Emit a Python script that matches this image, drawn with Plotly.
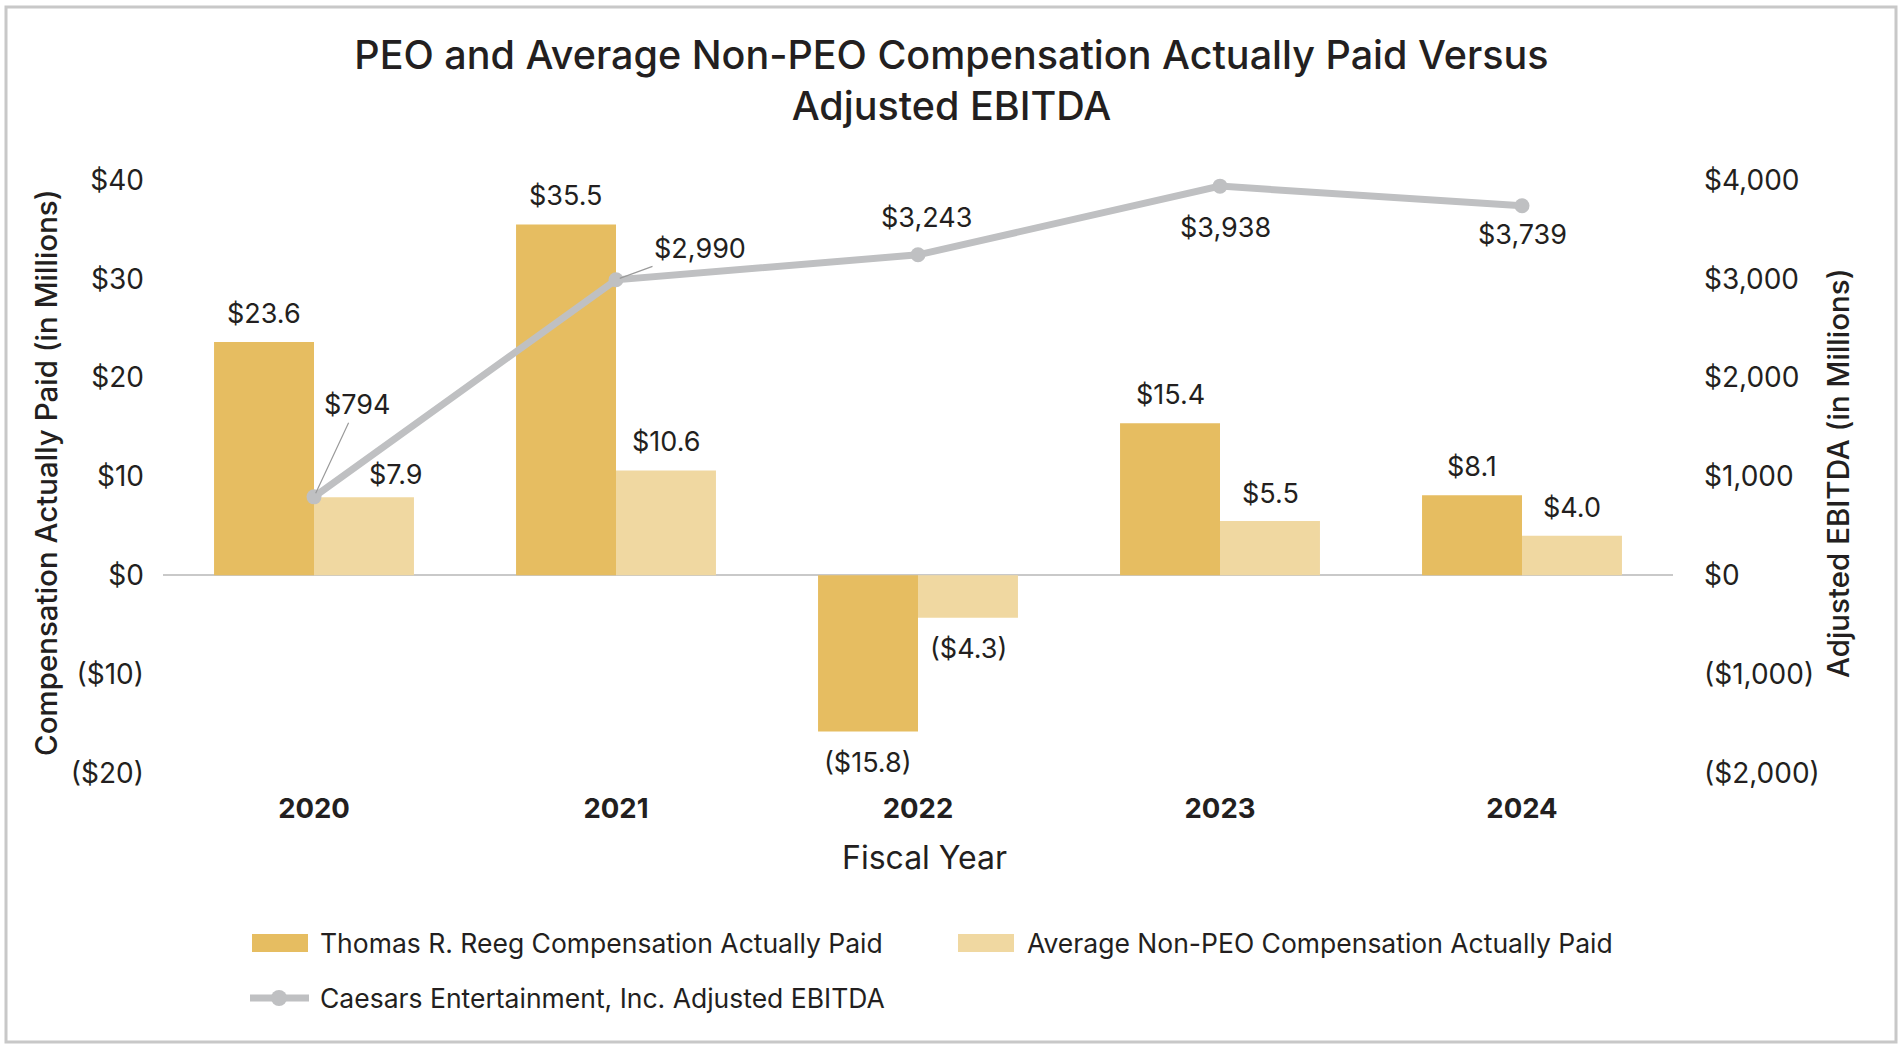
import plotly.graph_objects as go

# ---------------- data ----------------
years = ["2020", "2021", "2022", "2023", "2024"]
peo_cap = [23.6, 35.5, -15.8, 15.4, 8.1]          # Thomas R. Reeg CAP ($M)
neo_cap = [7.9, 10.6, -4.3, 5.5, 4.0]             # Average Non-PEO CAP ($M)
adj_ebitda = [794, 2990, 3243, 3938, 3739]        # Adjusted EBITDA ($M)

left_tickvals = [40, 30, 20, 10, 0, -10, -20]
left_ticktext = ["$40", "$30", "$20", "$10", "$0", "($10)", "($20)"]
right_tickvals = [4000, 3000, 2000, 1000, 0, -1000, -2000]
right_ticktext = ["$4,000", "$3,000", "$2,000", "$1,000", "$0", "($1,000)", "($2,000)"]

series_names = ["Thomas R. Reeg Compensation Actually Paid",
                "Average Non-PEO Compensation Actually Paid",
                "Caesars Entertainment, Inc. Adjusted EBITDA"]

# ---------------- style ----------------
W, H = 1903, 1049
ML, MR, MT, MB = 163, 230, 180, 276
PW, PH = W - ML - MR, H - MT - MB
FONT = "Inter"
TXT = "#231F20"
C_PEO = "#E6BD61"
C_NEO = "#F0D8A1"
C_LINE = "#BFC0C2"
C_ZERO = "#C9C9C9"
C_BORDER = "#C8C8C8"
BAR_HALF = 50  # px offset of each bar center from the group center

def px_x(p):
    return (p - ML) / PW

def px_y(p):
    return (H - MB - p) / PH

def money(v, dec=1):
    s = f"{abs(v):,.{dec}f}"
    return f"(${s})" if v < 0 else f"${s}"

fig = go.Figure()
fig.add_trace(go.Bar(x=years, y=peo_cap, name=series_names[0],
                     marker=dict(color=C_PEO, line=dict(width=0)), showlegend=False))
fig.add_trace(go.Bar(x=years, y=neo_cap, name=series_names[1],
                     marker=dict(color=C_NEO, line=dict(width=0)), showlegend=False))
fig.add_trace(go.Scatter(x=years, y=adj_ebitda, name=series_names[2], yaxis="y2",
                         mode="lines+markers", cliponaxis=False,
                         line=dict(color=C_LINE, width=7),
                         marker=dict(color=C_LINE, size=15), showlegend=False))

ann = []
LBL = dict(family=FONT, size=27, color=TXT)
# bar labels (x given as category index on the category axis)
neo_dx = [32, 0, 0, 0, 0]
neo_dy = [23, 29, -31, 27, 28]
peo_dy = [29, 29, -31, 29, 29]
for i, yr in enumerate(years):
    for vals, dx0, extra, dy in ((peo_cap, -BAR_HALF, 0, peo_dy[i]),
                                 (neo_cap, BAR_HALF, neo_dx[i], neo_dy[i])):
        v = vals[i]
        ann.append(dict(x=i, y=v, xref="x", yref="y", text=money(v), showarrow=False,
                        xshift=dx0 + extra, yshift=dy,
                        xanchor="center", yanchor="middle", font=LBL))
# EBITDA labels
e_dx = [43, 84, 8, 5, 0]
e_dy = [-92, -31, -37, 41, 29]   # px, positive = downward
e_arrow = [True, True, False, False, False]
for i, yr in enumerate(years):
    txt = money(adj_ebitda[i], 0)
    if e_arrow[i]:
        ann.append(dict(x=i, y=adj_ebitda[i], xref="x", yref="y2", text=txt,
                        showarrow=True, arrowhead=0, arrowwidth=1.2, arrowcolor="#9A9A9A",
                        ax=e_dx[i], ay=e_dy[i], standoff=4, font=LBL))
    else:
        ann.append(dict(x=i, y=adj_ebitda[i], xref="x", yref="y2", text=txt,
                        showarrow=False, xshift=e_dx[i], yshift=-e_dy[i],
                        xanchor="center", yanchor="middle", font=LBL))

# axis titles
ann.append(dict(x=px_x(46), y=px_y(473), xref="paper", yref="paper",
                text="Compensation Actually Paid (in Millions)", textangle=-90,
                showarrow=False, xanchor="center", yanchor="middle",
                font=dict(family=FONT, size=29.5, color=TXT, weight=500)))
ann.append(dict(x=px_x(1838), y=px_y(473), xref="paper", yref="paper",
                text="Adjusted EBITDA (in Millions)", textangle=-90,
                showarrow=False, xanchor="center", yanchor="middle",
                font=dict(family=FONT, size=29.5, color=TXT, weight=500)))
ann.append(dict(x=px_x(925), y=px_y(857), xref="paper", yref="paper",
                text="Fiscal Year", showarrow=False, xanchor="center", yanchor="middle",
                font=dict(family=FONT, size=32, color=TXT)))

# custom legend
LEG = dict(family=FONT, size=26.5, color=TXT)
shapes = []
leg_items = [(252, 308, 943, C_PEO, 318, series_names[0]),
             (958, 1014, 943, C_NEO, 1025, series_names[1])]
for x0, x1, yc, col, tx, name in leg_items:
    shapes.append(dict(type="rect", xref="paper", yref="paper",
                       x0=px_x(x0), x1=px_x(x1), y0=px_y(yc + 9), y1=px_y(yc - 9),
                       fillcolor=col, line=dict(width=0)))
    ann.append(dict(x=px_x(tx), y=px_y(yc), xref="paper", yref="paper", text=name,
                    showarrow=False, xanchor="left", yanchor="middle", font=LEG))
shapes.append(dict(type="line", xref="paper", yref="paper",
                   x0=px_x(250), x1=px_x(309), y0=px_y(998), y1=px_y(998),
                   line=dict(color=C_LINE, width=7)))
shapes.append(dict(type="circle", xref="paper", yref="paper",
                   x0=px_x(271), x1=px_x(287), y0=px_y(1006), y1=px_y(990),
                   fillcolor=C_LINE, line=dict(width=0)))
ann.append(dict(x=px_x(318), y=px_y(998), xref="paper", yref="paper", text=series_names[2],
                showarrow=False, xanchor="left", yanchor="middle", font=LEG))

# outer border
shapes.append(dict(type="rect", xref="paper", yref="paper",
                   x0=px_x(6), x1=px_x(1896), y0=px_y(1042), y1=px_y(7),
                   line=dict(color=C_BORDER, width=3), fillcolor="rgba(0,0,0,0)", layer="below"))

fig.update_layout(
    width=W, height=H,
    margin=dict(l=ML, r=MR, t=MT, b=MB, autoexpand=False),
    paper_bgcolor="white", plot_bgcolor="white",
    barmode="group", bargap=0.338, bargroupgap=0,
    font=dict(family=FONT, color=TXT),
    title=dict(text="PEO and Average Non-PEO Compensation Actually Paid Versus<br>Adjusted EBITDA",
               x=0.5, xref="container", xanchor="center",
               y=1 - 68.5 / H, yref="container", yanchor="middle",
               font=dict(family=FONT, size=39.5, color=TXT, weight=500)),
    xaxis=dict(type="category", categoryorder="array", categoryarray=years,
               range=[-0.5, 4.5], showgrid=False, showline=False, zeroline=False,
               ticks="", ticklabelstandoff=16,
               tickfont=dict(family=FONT, size=27.5, color=TXT, weight="bold")),
    yaxis=dict(range=[-20, 40], tickvals=left_tickvals, ticktext=left_ticktext,
               showgrid=False, showline=False, zeroline=True, zerolinecolor=C_ZERO,
               zerolinewidth=2, ticks="", ticklabelstandoff=18,
               tickfont=dict(family=FONT, size=28, color=TXT)),
    yaxis2=dict(range=[-2000, 4000], tickvals=right_tickvals, ticktext=right_ticktext,
                overlaying="y", side="right", showgrid=False, showline=False,
                zeroline=False, ticks="", ticklabelstandoff=30,
                tickfont=dict(family=FONT, size=28, color=TXT)),
    annotations=ann, shapes=shapes, showlegend=False,
)

fig.write_html("out.html", config={"displayModeBar": False},
               post_script="document.body.style.margin='0px';")
